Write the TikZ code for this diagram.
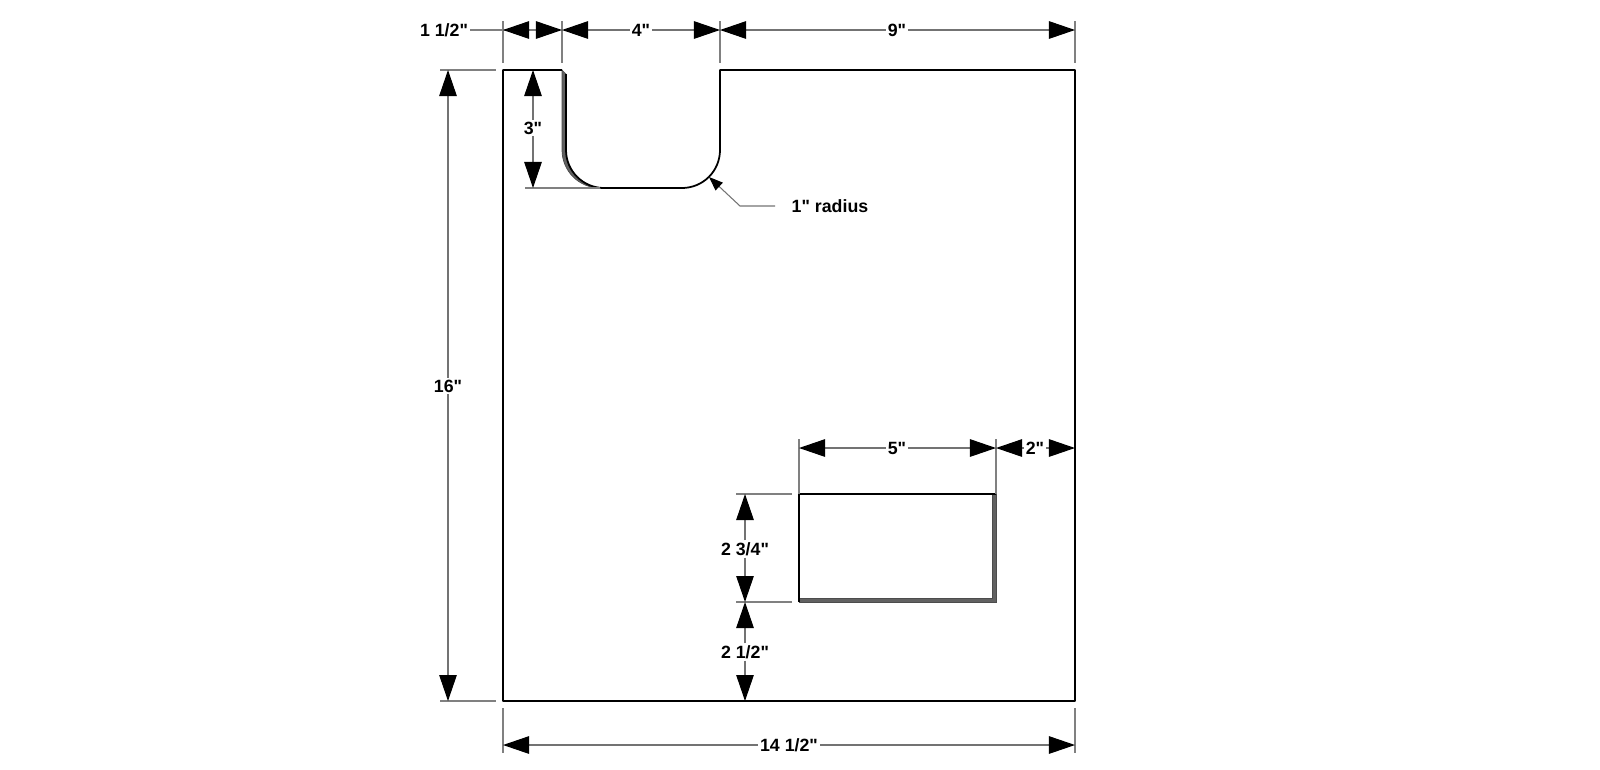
\documentclass[tikz,border=0pt]{standalone}
\usepackage{fontspec}
\newfontfamily\dimfont{Liberation Sans}
\usetikzlibrary{arrows.meta}

\tikzset{
  panel/.style={black,line width=.5pt,line join=round},
  bevel/.style={draw=black!70,fill=black!62,line width=.2pt},
  extline/.style={black!50,line width=.3pt},
  dimline/.style={black!55,line width=.3pt,
    -{Triangle[black,length=2.6mm,width=1.75mm]}},
  leaderline/.style={black!55,line width=.3pt,
    -{Triangle[black,length=1.4mm,width=1.05mm]}},
  dimlabel/.style={font=\dimfont\bfseries\fontsize{5.05}{6}\selectfont,inner sep=.4pt,text=black}
}

\begin{document}
\begin{tikzpicture}[x=.01cm,y=-.01cm]
    \useasboundingbox (0,0) rectangle (1600,769);

    % corners of the panel
    \coordinate (tl) at (503,70);
    \coordinate (tr) at (1075,70);
    \coordinate (bl) at (503,701);
    \coordinate (br) at (1075,701);
    \coordinate (notchl) at (562,70);
    \coordinate (notchr) at (720,70);
    \coordinate (recttl) at (799,494);
    \coordinate (recttr) at (996,494);
    \coordinate (rectbl) at (799,602);
    \coordinate (rectbr) at (996,602);

    % panel outline with the notch
    \fill[bevel] (notchl) -- (566,74) -- (566,150)
        .. controls (566,171) and (583,188) .. (604,188) -- (600,188)
        .. controls (579,188) and (562,171) .. (562,150) -- cycle;
    \draw[panel] (notchl) -- (tl) -- (bl) -- (br) -- (tr) -- (notchr) -- (720,150)
        .. controls (720,171) and (703,188) .. (682,188) -- (604,188);
    \draw[panel] (566,74) -- (566,150)
        .. controls (566,171) and (583,188) .. (604,188);

    % cut-out
    \fill[bevel] (992,494) -- (recttr) -- (rectbr) -- (rectbl) -- (799,598) -- (992,598) -- cycle;
    \draw[panel] (rectbl) -- (recttl) -- (recttr);

    % extension lines
    \draw[extline] (503,21) -- (503,63);
    \draw[extline] (562,21) -- (562,63);
    \draw[extline] (720,21) -- (720,63);
    \draw[extline] (1075,21) -- (1075,63);
    \draw[extline] (440,70) -- (496,70);
    \draw[extline] (440,701) -- (496,701);
    \draw[extline] (525,188) -- (600,188);
    \draw[extline] (503,708) -- (503,753);
    \draw[extline] (1075,708) -- (1075,753);
    \draw[extline] (799,439) -- (recttl);
    \draw[extline] (996,439) -- (recttr);
    \draw[extline] (736,494) -- (792,494);
    \draw[extline] (736,602) -- (792,602);

    % labels
    \node[dimlabel] (onehalf) at (444,30) {1 1/2"};
    \node[dimlabel] (four) at (641,30) {4"};
    \node[dimlabel] (nine) at (897,30) {9"};
    \node[dimlabel] (sixteen) at (448,386) {16"};
    \node[dimlabel] (three) at (533,128) {3"};
    \node[dimlabel] (radius) at (830,206) {1" radius};
    \node[dimlabel] (five) at (897,448) {5"};
    \node[dimlabel] (two) at (1035,448) {2"};
    \node[dimlabel] (twothree) at (745,549) {2 3/4"};
    \node[dimlabel] (twoone) at (745,652) {2 1/2"};
    \node[dimlabel] (total) at (789,745) {14 1/2"};

    % dimension lines, top row
    \coordinate (splitl) at (529,30);
    \coordinate (splitr) at (536,30);
    \draw[extline] (onehalf) -- (503,30) -- (splitr);
    \draw[dimline] (splitl) -- (503,30);
    \draw[dimline] (splitr) -- (562,30);
    \draw[dimline] (four) -- (562,30);
    \draw[dimline] (four) -- (720,30);
    \draw[dimline] (nine) -- (720,30);
    \draw[dimline] (nine) -- (1075,30);

    % dimension lines, left side
    \draw[dimline] (sixteen) -- (448,70);
    \draw[dimline] (sixteen) -- (448,701);
    \draw[dimline] (three) -- (533,70);
    \draw[dimline] (three) -- (533,188);

    % dimension lines around the cut-out
    \draw[dimline] (five) -- (799,448);
    \draw[dimline] (five) -- (996,448);
    \draw[dimline] (two) -- (996,448);
    \draw[dimline] (two) -- (1075,448);
    \draw[dimline] (twothree) -- (745,494);
    \draw[dimline] (twothree) -- (745,602);
    \draw[dimline] (twoone) -- (745,602);
    \draw[dimline] (twoone) -- (745,701);
    \draw[dimline] (total) -- (503,745);
    \draw[dimline] (total) -- (1075,745);

    % leader to the corner
    \coordinate (leaderend) at (775,206);
    \draw[leaderline] (leaderend) -- (740,206) -- (709,177);
\end{tikzpicture}
\end{document}
